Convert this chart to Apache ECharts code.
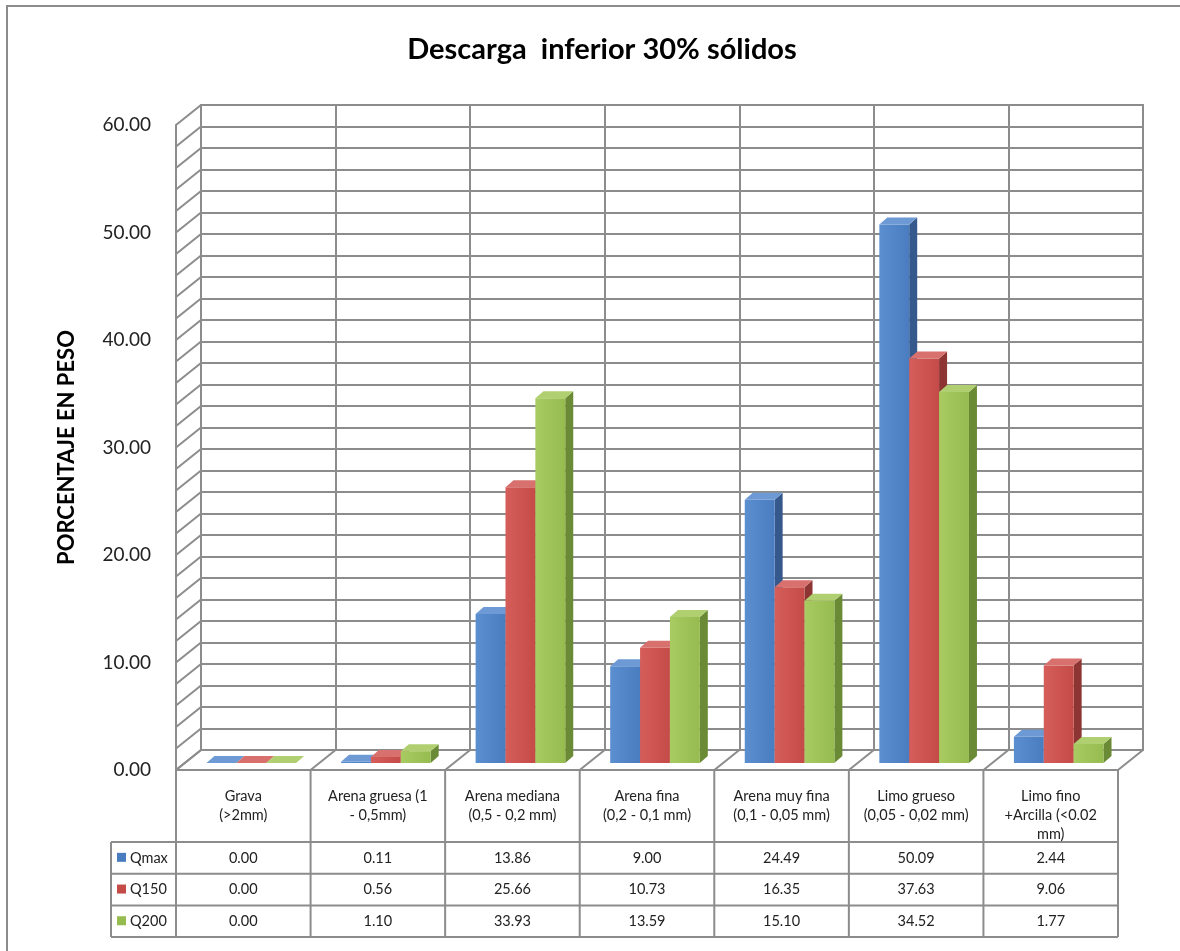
<!DOCTYPE html>
<html>
<head>
<meta charset="utf-8">
<title>Descarga inferior 30% sólidos</title>
<script src="https://cdn.jsdelivr.net/npm/echarts@6/dist/echarts.min.js"></script>
<style>
  html, body { margin: 0; padding: 0; background: #fff; }
  #chart { width: 1180px; height: 951px; }
</style>
</head>
<body>
<div id="chart"></div>
<script>
// data
const categories = [
  'Grava\n(>2mm)',
  'Arena gruesa (1\n- 0,5mm)',
  'Arena mediana\n(0,5 - 0,2 mm)',
  'Arena fina\n(0,2 - 0,1 mm)',
  'Arena muy fina\n(0,1 - 0,05 mm)',
  'Limo grueso\n(0,05 - 0,02 mm)',
  'Limo fino\n+Arcilla (<0.02\nmm)'
]
const seriesNames = ['Qmax', 'Q150', 'Q200']
const qmax = [0.00, 0.11, 13.86, 9.00, 24.49, 50.09, 2.44]
const q150 = [0.00, 0.56, 25.66, 10.73, 16.35, 37.63, 9.06]
const q200 = [0.00, 1.10, 33.93, 13.59, 15.10, 34.52, 1.77]

const FONT = 'Lato, "Open Sans", sans-serif'
const LINE = '#8c8c8c'
// front plane of the 3D box, back wall is shifted by DEPTH
const FRONT = { left: 176, top: 125, width: 942, height: 645 }
const DEPTH = [25, -20]
// bars sit a third of the way into the box
const BAR_FACE = [8, -7]
const BAR_DEPTH = [8, -7]

const colors = [
  { light: '#5b8fd0', base: '#4a7cc0', side: '#35598c', top: '#6d9ad4' },
  { light: '#d65e5a', base: '#c44b47', side: '#8d3532', top: '#d8716e' },
  { light: '#a8cb62', base: '#96bb4f', side: '#6b8a35', top: '#b0cf70' }
]

function barRenderer(idx) {
  const c = colors[idx]
  return function (params, api) {
    const cat = api.value(0)
    const base = api.coord([cat, 0])
    const top = api.coord([cat, api.value(1)])
    const band = api.size([1, 0])[0]
    const w = band * 0.222
    const x0 = base[0] - 1.5 * w + idx * w + BAR_FACE[0]
    const yb = base[1] + BAR_FACE[1]
    const yt = top[1] + BAR_FACE[1]
    const dx = BAR_DEPTH[0]
    const dy = BAR_DEPTH[1]
    return {
      type: 'group',
      children: [
        {
          type: 'polygon',
          shape: { points: [[x0 + w, yt], [x0 + w + dx, yt + dy], [x0 + w + dx, yb + dy], [x0 + w, yb]] },
          style: { fill: c.side }
        },
        {
          type: 'rect',
          shape: { x: x0, y: yt, width: w, height: yb - yt },
          style: {
            fill: new echarts.graphic.LinearGradient(0, 0, 1, 0, [
              { offset: 0, color: c.light },
              { offset: 1, color: c.base }
            ])
          }
        },
        {
          type: 'polygon',
          shape: { points: [[x0, yt], [x0 + dx, yt + dy], [x0 + w + dx, yt + dy], [x0 + w, yt]] },
          style: { fill: c.top }
        }
      ]
    }
  }
}

// left side wall and floor dividers, drawn from the front axes
function renderFrame(params, api) {
  const band = api.size([1, 0])[0]
  const left = api.coord([0, 0])[0] - band / 2
  const children = []
  for (let v = 0; v <= 60; v += 2) {
    const y = api.coord([0, v])[1]
    children.push({
      type: 'line',
      shape: { x1: left, y1: y, x2: left + DEPTH[0], y2: y + DEPTH[1] },
      style: { stroke: LINE, lineWidth: 2 }
    })
  }
  const y0 = api.coord([0, 0])[1]
  for (let i = 0; i <= categories.length; i++) {
    const x = left + i * band
    children.push({
      type: 'line',
      shape: { x1: x, y1: y0, x2: x + DEPTH[0], y2: y0 + DEPTH[1] },
      style: { stroke: LINE, lineWidth: 2 }
    })
  }
  return { type: 'group', children: children }
}

// data table under the plot
function buildTable() {
  const els = []
  const colW = FRONT.width / categories.length
  const x0 = FRONT.left
  const xEnd = x0 + FRONT.width
  const legendLeft = 111
  const headTop = FRONT.top + FRONT.height
  const headBottom = 842
  const rowH = 31.7
  const tableBottom = headBottom + rowH * 3
  const line = (x1, y1, x2, y2) => els.push({
    type: 'line',
    shape: { x1, y1, x2, y2 },
    style: { stroke: LINE, lineWidth: 2 }
  })
  line(x0, headTop, xEnd, headTop)
  for (let r = 0; r <= 3; r++) {
    const y = headBottom + r * rowH
    line(legendLeft, y, xEnd, y)
  }
  line(legendLeft, headBottom, legendLeft, tableBottom)
  for (let i = 0; i <= categories.length; i++) {
    line(x0 + i * colW, headTop, x0 + i * colW, tableBottom)
  }
  categories.forEach((name, i) => {
    els.push({
      type: 'text',
      x: x0 + (i + 0.5) * colW,
      y: 787,
      style: {
        text: name, fill: '#222', font: '14.5px ' + FONT,
        textAlign: 'center', textVerticalAlign: 'top', lineHeight: 19
      }
    })
  })
  const rows = [qmax, q150, q200]
  rows.forEach((vals, r) => {
    const cy = headBottom + (r + 0.5) * rowH
    els.push({
      type: 'rect',
      shape: { x: 117, y: cy - 5, width: 9, height: 9 },
      style: { fill: colors[r].base }
    })
    els.push({
      type: 'text', x: 130, y: cy,
      style: {
        text: seriesNames[r], fill: '#222', font: '14.5px ' + FONT,
        textAlign: 'left', textVerticalAlign: 'middle'
      }
    })
    vals.forEach((v, i) => {
      els.push({
        type: 'text', x: x0 + (i + 0.5) * colW, y: cy,
        style: {
          text: v.toFixed(2), fill: '#222', font: '14.5px ' + FONT,
          textAlign: 'center', textVerticalAlign: 'middle'
        }
      })
    })
  })
  // outer chart border (right and bottom edges fall outside the picture)
  els.push({
    type: 'rect',
    shape: { x: 7, y: 6, width: 1200, height: 980 },
    style: { fill: 'none', stroke: LINE, lineWidth: 2 }
  })
  return els
}

const chart = echarts.init(document.getElementById('chart'))
chart.setOption({
  animation: false,
  backgroundColor: '#fff',
  title: {
    text: 'Descarga  inferior 30% sólidos',
    left: 597,
    textAlign: 'center',
    top: 30,
    textStyle: { fontFamily: FONT, fontSize: 29, fontWeight: 'bold', color: '#000' }
  },
  grid: [
    {
      left: FRONT.left + DEPTH[0],
      top: FRONT.top + DEPTH[1],
      width: FRONT.width,
      height: FRONT.height,
      show: true,
      borderColor: LINE,
      borderWidth: 2
    },
    {
      left: FRONT.left,
      top: FRONT.top,
      width: FRONT.width,
      height: FRONT.height
    }
  ],
  xAxis: [
    {
      type: 'category', gridIndex: 0, data: categories,
      axisLine: { show: false }, axisTick: { show: false }, axisLabel: { show: false },
      splitLine: { show: true, interval: 0, lineStyle: { color: LINE, width: 2 } }
    },
    {
      type: 'category', gridIndex: 1, data: categories,
      axisLine: { show: false }, axisTick: { show: false }, axisLabel: { show: false }
    }
  ],
  yAxis: [
    {
      type: 'value', gridIndex: 0, min: 0, max: 60, interval: 2,
      axisLine: { show: false }, axisTick: { show: false }, axisLabel: { show: false },
      splitLine: { show: true, lineStyle: { color: LINE, width: 2 } }
    },
    {
      type: 'value', gridIndex: 1, min: 0, max: 60, interval: 10,
      name: 'PORCENTAJE EN PESO',
      nameLocation: 'middle',
      nameGap: 98,
      nameTextStyle: { fontFamily: FONT, fontSize: 22, fontWeight: 'bold', color: '#000' },
      axisLine: { show: true, lineStyle: { color: LINE, width: 2 } },
      axisTick: { show: false },
      splitLine: { show: false },
      axisLabel: {
        margin: 25, fontFamily: FONT, fontSize: 19, color: '#222',
        formatter: v => v.toFixed(2)
      }
    }
  ],
  series: [
    {
      type: 'custom', name: 'frame', xAxisIndex: 1, yAxisIndex: 1,
      data: [[0, 0]], renderItem: renderFrame, clip: false, silent: true, z: 1
    }
  ].concat([qmax, q150, q200].map((vals, idx) => ({
    type: 'custom',
    name: seriesNames[idx],
    xAxisIndex: 1,
    yAxisIndex: 1,
    encode: { x: 0, y: 1 },
    data: vals.map((v, i) => [i, v]),
    renderItem: barRenderer(idx),
    clip: false,
    z: 3
  }))),
  graphic: buildTable()
})
</script>
</body>
</html>
